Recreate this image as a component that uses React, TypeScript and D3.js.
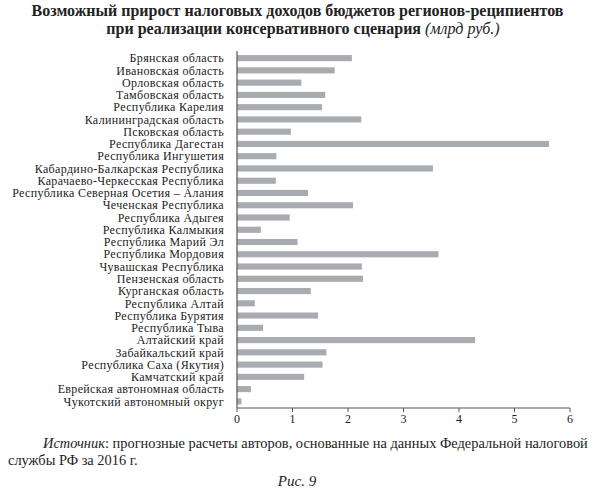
import React from "react";
import * as d3 from "d3";

const regions: string[] = [
  "Брянская область",
  "Ивановская область",
  "Орловская область",
  "Тамбовская область",
  "Республика Карелия",
  "Калининградская область",
  "Псковская область",
  "Республика Дагестан",
  "Республика Ингушетия",
  "Кабардино-Балкарская Республика",
  "Карачаево-Черкесская Республика",
  "Республика Северная Осетия – Алания",
  "Чеченская Республика",
  "Республика Адыгея",
  "Республика Калмыкия",
  "Республика Марий Эл",
  "Республика Мордовия",
  "Чувашская Республика",
  "Пензенская область",
  "Курганская область",
  "Республика Алтай",
  "Республика Бурятия",
  "Республика Тыва",
  "Алтайский край",
  "Забайкальский край",
  "Республика Саха (Якутия)",
  "Камчатский край",
  "Еврейская автономная область",
  "Чукотский автономный округ",
];

const values: number[] = [
  2.07, 1.76, 1.16, 1.59, 1.53, 2.24, 0.97, 5.62, 0.71, 3.53,
  0.7, 1.28, 2.09, 0.95, 0.43, 1.09, 3.63, 2.25, 2.27, 1.33,
  0.32, 1.46, 0.47, 4.29, 1.61, 1.54, 1.21, 0.25, 0.08,
];

const xTicks: number[] = [0, 1, 2, 3, 4, 5, 6];

const titleLine1 = "Возможный прирост налоговых доходов бюджетов регионов-реципиентов";
const titleLine2 = "при реализации консервативного сценария";
const titleUnit = "(млрд руб.)";
const sourceLabel = "Источник";
const sourceLine1 = ": прогнозные расчеты авторов, основанные на данных Федеральной налоговой";
const sourceLine2 = "службы РФ за 2016 г.";
const figLabel = "Рис. 9";

export default function App() {
  const W = 595;
  const H = 492;
  const x = d3.scaleLinear().domain([0, 6]).range([237, 570]);
  const y = d3
    .scaleBand<string>()
    .domain(regions)
    .range([52, 407.5])
    .paddingInner(0.5)
    .paddingOuter(0.25);
  const axisY = 408;
  const font = "'Liberation Serif', 'DejaVu Serif', serif";

  return (
    <svg
      width={W}
      height={H}
      viewBox={`0 0 ${W} ${H}`}
      style={{ position: "absolute", left: 0, top: 0, background: "#fff" }}
      fontFamily={font}
    >
      <text x={297.5} y={16} textAnchor="middle" fontSize={16} fontWeight="bold" fill="#222">
        {titleLine1}
      </text>
      <text x={303} y={34} textAnchor="middle" fontSize={16} fill="#222">
        <tspan fontWeight="bold">{titleLine2}</tspan>
        <tspan fontStyle="italic">{" " + titleUnit}</tspan>
      </text>

      {regions.map((r, i) => (
        <g key={r}>
          <rect
            x={x(0)}
            y={y(r)!}
            width={x(values[i]) - x(0)}
            height={y.bandwidth()}
            fill="#a8abaf"
          />
          <text
            x={224}
            y={y(r)! + y.bandwidth() / 2}
            dy="0.35em"
            textAnchor="end"
            fontSize={12}
            letterSpacing={0.35}
            fill="#222"
          >
            {r}
          </text>
        </g>
      ))}

      <line x1={x(0)} x2={x(0)} y1={51} y2={axisY} stroke="#555" strokeWidth={1.2} />
      <line x1={x(0)} x2={x(6)} y1={axisY} y2={axisY} stroke="#555" strokeWidth={1} />
      {xTicks.map((t) => (
        <g key={t}>
          <line x1={x(t)} x2={x(t)} y1={axisY} y2={axisY + 4} stroke="#555" strokeWidth={1} />
          <text x={x(t)} y={423} textAnchor="middle" fontSize={12} fill="#222">
            {t}
          </text>
        </g>
      ))}

      <text x={43} y={448} fontSize={14.4} fill="#222">
        <tspan fontStyle="italic">{sourceLabel}</tspan>
        <tspan>{sourceLine1}</tspan>
      </text>
      <text x={8} y={465} fontSize={14.4} fill="#222">
        {sourceLine2}
      </text>
      <text x={297} y={486} textAnchor="middle" fontSize={15} fontStyle="italic" fill="#222">
        {figLabel}
      </text>
    </svg>
  );
}
